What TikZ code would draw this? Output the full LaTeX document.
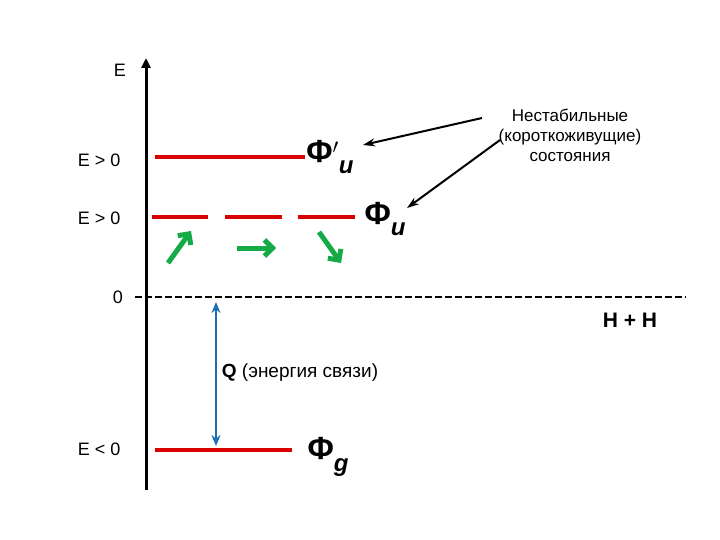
\documentclass[tikz,border=0pt]{standalone}
\usepackage{fontspec}
\setmainfont{Liberation Sans}
\usetikzlibrary{arrows.meta}
\definecolor{qblue}{RGB}{30,110,180}
\definecolor{grn}{RGB}{20,170,70}
\begin{document}
\begin{tikzpicture}[x=1pt,y=-1pt,
 lvl/.style={red!85!black,line width=4pt},
 grnarr/.style={grn,line width=5pt,-{Straight Barb[length=8pt,width=16pt]}},
 blk/.style={black,line width=2pt,-{Stealth[length=12pt,width=8pt]}},
 lbl/.style={font=\fontsize{18}{20}\selectfont},
 phi/.style={font=\fontsize{32}{34}\selectfont\bfseries}]
\useasboundingbox (0,0) rectangle (720,540);
\coordinate (a0) at (146,490); \coordinate (a1) at (146,58);
\draw[line width=3pt,-{Triangle[length=10pt,width=9pt]}] (a0) -- (a1);
\node[lbl] (E) at (120,70) {E};
\node[lbl,anchor=east] (e1) at (124,160) {E > 0};
\node[lbl,anchor=east] (e2) at (124,218) {E > 0};
\node[lbl] (z) at (118,297) {0};
\node[lbl,anchor=east] (e3) at (124,449) {E < 0};
\coordinate (l1a) at (155,157); \coordinate (l1b) at (305,157);
\draw[lvl] (l1a) -- (l1b);
\foreach \a/\b in {152/208,225/282,298/355}{\draw[lvl] (\a,217) -- (\b,217);}
\coordinate (ga) at (155,450); \coordinate (gb) at (292,450);
\draw[lvl] (ga) -- (gb);
\node[phi] (p1) at (330,157) {Φ$'$\raisebox{-0.35em}{\itshape\bfseries\fontsize{24}{24}\selectfont u}};
\node[phi] (p2) at (385,219) {Φ\raisebox{-0.35em}{\itshape\bfseries\fontsize{24}{24}\selectfont u}};
\node[phi] (p3) at (328,457) {Φ\raisebox{-0.35em}{\itshape\bfseries\fontsize{24}{24}\selectfont g}};
\coordinate (d0) at (135,297); \coordinate (d1) at (686,297);
\draw[line width=1.5pt,dash pattern=on 7pt off 3pt] (d0) -- (d1);
\node[font=\fontsize{21}{23}\selectfont\bfseries] (hh) at (630,320) {H + H};
\coordinate (q0) at (216,302); \coordinate (q1) at (216,446);
\draw[qblue,line width=2.5pt,{Stealth[length=11pt,width=9pt]}-{Stealth[length=11pt,width=9pt]}] (q0) -- (q1);
\node[fill=white,inner sep=2pt,font=\fontsize{19}{21}\selectfont] (q) at (300,373) {\textbf{Q} (энергия связи)};
\coordinate (g1a) at (168,263); \coordinate (g1b) at (191,231);
\coordinate (g2a) at (237,248); \coordinate (g2b) at (276,248);
\coordinate (g3a) at (319,232); \coordinate (g3b) at (341,263);
\draw[grnarr] (g1a) -- (g1b); \draw[grnarr] (g2a) -- (g2b); \draw[grnarr] (g3a) -- (g3b);
\node[align=center,font=\fontsize{17}{20}\selectfont] (t) at (570,135) {Нестабильные\\(короткоживущие)\\состояния};
\coordinate (b1a) at (482,118); \coordinate (b1b) at (363,145);
\coordinate (b2a) at (500,140); \coordinate (b2b) at (407,208);
\draw[blk] (b1a) -- (b1b); \draw[blk] (b2a) -- (b2b);
\end{tikzpicture}
\end{document}
